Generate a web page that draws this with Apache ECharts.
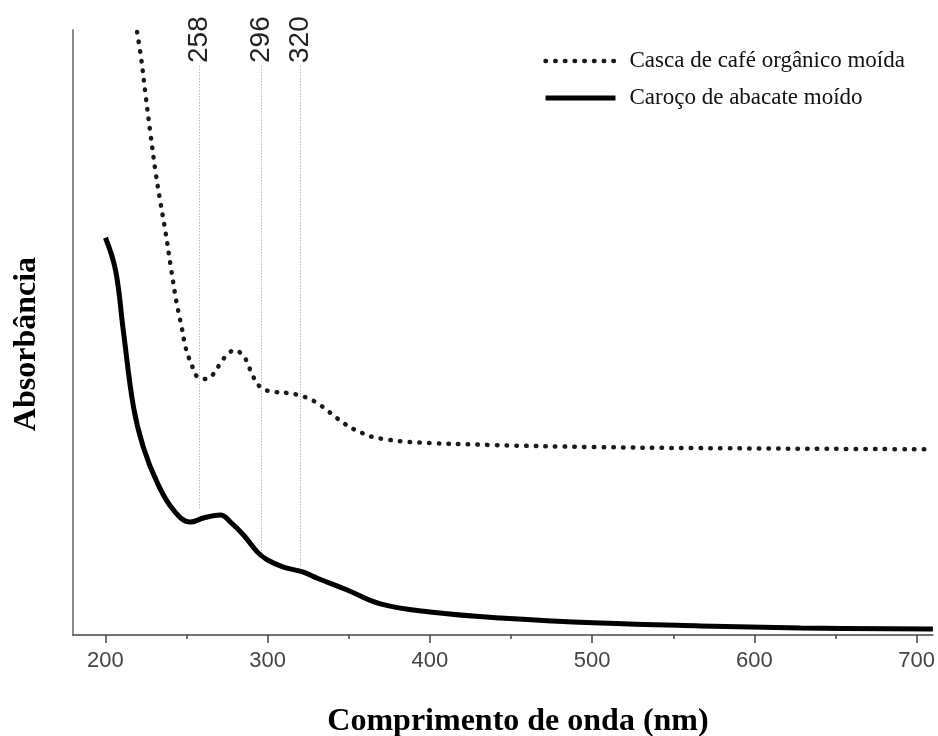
<!DOCTYPE html>
<html>
<head>
<meta charset="utf-8">
<title>Absorbância</title>
<script src="https://cdn.jsdelivr.net/npm/echarts@6/dist/echarts.min.js"></script>
<style>
  html, body { margin: 0; padding: 0; background: #fff; }
  #chart { width: 938px; height: 736px; }
</style>
</head>
<body>
<div id="chart"></div>
<script>
// valores (absorbância em unidade arbitrária, eixo 0..3)
const seriesNames = ['Casca de café orgânico moída', 'Caroço de abacate moído'];

const cascaNm = [219.5, 222, 225, 228, 231, 234, 237, 240, 243.8, 246.9, 249.3, 251.2, 253.6, 256.7, 261.7, 267.2, 270.9, 275.2, 279.5, 285.1, 288.2, 290.6, 294.3, 298.6, 304.8, 312.2, 319, 324.5, 330.7, 336.3, 341.8, 346.7, 352.9, 358.4, 364.6, 371.4, 386.8, 439, 501, 562, 676, 710];
const cascaAbs = [2.99, 2.86, 2.66, 2.47, 2.29, 2.14, 2.0, 1.84, 1.65, 1.53, 1.43, 1.38, 1.33, 1.28, 1.27, 1.3, 1.35, 1.39, 1.413, 1.383, 1.334, 1.289, 1.239, 1.215, 1.205, 1.2, 1.19, 1.175, 1.15, 1.116, 1.081, 1.051, 1.021, 1.001, 0.982, 0.972, 0.957, 0.942, 0.932, 0.927, 0.922, 0.921];

const carocoNm = [200, 206.2, 211, 217.3, 223.4, 232, 241.9, 252.4, 260.4, 270.9, 277.1, 285.1, 293.7, 299.9, 309.7, 322, 331, 349, 369.5, 400, 443.5, 505, 566.8, 628.5, 710];
const carocoAbs = [1.97, 1.81, 1.51, 1.13, 0.93, 0.754, 0.62, 0.56, 0.58, 0.595, 0.56, 0.496, 0.411, 0.372, 0.337, 0.312, 0.28, 0.223, 0.154, 0.114, 0.084, 0.059, 0.045, 0.035, 0.03];

const majorTicks = [200, 300, 400, 500, 600, 700];
const minorTicks = [250, 350, 450, 550, 650];

// linhas de referência (picos)
const markerNm = [258, 296, 320];
const markerTop = 2.82;
const markerBottom = [0.62, 0.42, 0.34];

const pairs = (xs, ys) => xs.map((x, i) => [x, ys[i]]);

const dottedStyle = { color: '#1a1a1a', width: 4.5, type: [0.5, 9.2], cap: 'round' };
const solidStyle = { color: '#000', width: 5 };

const chart = echarts.init(document.getElementById('chart'));

chart.setOption({
  animation: false,
  backgroundColor: '#fff',
  color: ['#1a1a1a', '#000'],
  grid: { left: 73, right: 5, top: 30, bottom: 101 },
  legend: {
    data: [
      { name: seriesNames[0], lineStyle: dottedStyle },
      { name: seriesNames[1], lineStyle: solidStyle }
    ],
    orient: 'vertical',
    left: 538,
    top: 44,
    itemWidth: 70,
    itemHeight: 14,
    itemGap: 13,
    itemStyle: { opacity: 0 },
    textStyle: {
      fontFamily: 'Liberation Serif',
      fontSize: 23,
      lineHeight: 24,
      color: '#111',
      padding: [0, 0, 0, 9]
    }
  },
  xAxis: [{
    type: 'value',
    min: 180,
    max: 710,
    position: 'bottom',
    axisLine: { lineStyle: { color: '#444', width: 1.5 } },
    axisTick: { customValues: majorTicks, length: 8, lineStyle: { color: '#444', width: 1.5 } },
    axisLabel: {
      customValues: majorTicks,
      margin: 15,
      fontFamily: 'Liberation Sans',
      fontSize: 22,
      color: '#444'
    },
    splitLine: { show: false }
  }, {
    type: 'value',
    min: 180,
    max: 710,
    position: 'bottom',
    axisLine: { show: false },
    axisTick: { customValues: minorTicks, length: 4, lineStyle: { color: '#444', width: 1.5 } },
    axisLabel: { show: false },
    splitLine: { show: false }
  }],
  yAxis: {
    type: 'value',
    min: 0,
    max: 3,
    axisLine: { show: true, lineStyle: { color: '#8a8a8a', width: 2 } },
    axisTick: { show: false },
    axisLabel: { show: false },
    splitLine: { show: false }
  },
  series: [{
    name: seriesNames[0],
    type: 'line',
    xAxisIndex: 0,
    data: pairs(cascaNm, cascaAbs),
    smooth: 0.4,
    symbol: 'none',
    itemStyle: { color: '#1a1a1a' },
    lineStyle: dottedStyle
  }, {
    name: seriesNames[1],
    type: 'line',
    xAxisIndex: 0,
    data: pairs(carocoNm, carocoAbs),
    smooth: 0.4,
    symbol: 'none',
    itemStyle: { color: '#000' },
    lineStyle: solidStyle,
    markLine: {
      silent: true,
      symbol: ['none', 'none'],
      label: { show: false },
      lineStyle: { color: '#999', width: 1, type: [1, 2] },
      data: markerNm.map((nm, i) => [
        { coord: [nm, markerTop] },
        { coord: [nm, markerBottom[i]] }
      ])
    }
  }]
});

// rótulos dos picos (verticais) e títulos dos eixos
const labelGraphics = markerNm.map(nm => ({
  type: 'text',
  x: chart.convertToPixel({ xAxisIndex: 0 }, nm),
  y: 63,
  rotation: Math.PI / 2,
  style: {
    text: String(nm),
    font: '28px "Liberation Sans"',
    fill: '#222',
    textAlign: 'left',
    textVerticalAlign: 'middle',
    align: 'left',
    verticalAlign: 'middle'
  }
}));

chart.setOption({
  graphic: labelGraphics.concat([{
    type: 'text',
    x: 518,
    y: 722,
    style: {
      text: 'Comprimento de onda (nm)',
      font: 'bold 32px "Liberation Serif"',
      fill: '#000',
      textAlign: 'center',
      textVerticalAlign: 'middle',
      align: 'center',
      verticalAlign: 'middle'
    }
  }, {
    type: 'text',
    x: 27,
    y: 344,
    rotation: Math.PI / 2,
    style: {
      text: 'Absorbância',
      font: 'bold 32px "Liberation Serif"',
      fill: '#000',
      textAlign: 'center',
      textVerticalAlign: 'middle',
      align: 'center',
      verticalAlign: 'middle'
    }
  }])
});
</script>
</body>
</html>
